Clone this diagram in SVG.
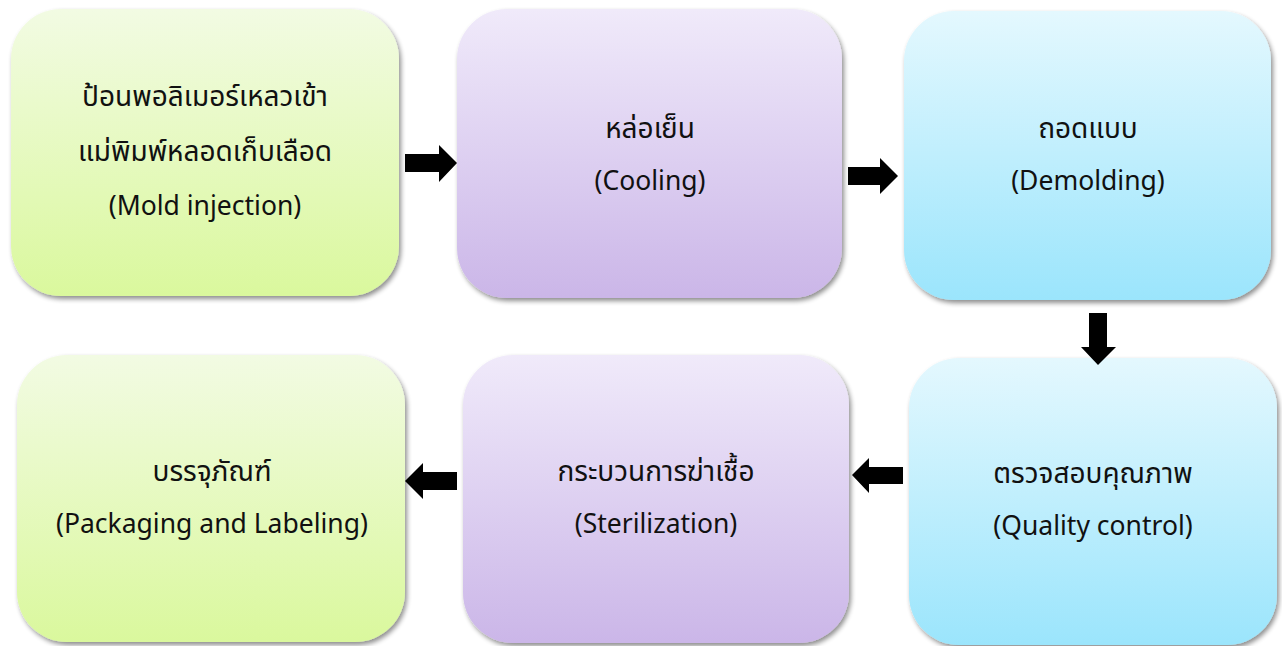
<svg xmlns="http://www.w3.org/2000/svg" width="1282" height="646" viewBox="0 0 1282 646">
<defs>
<linearGradient id="gGreen" x1="0" y1="0" x2="0" y2="1"><stop offset="0" stop-color="#f2fbe3"/><stop offset="1" stop-color="#daf89d"/></linearGradient>
<linearGradient id="gPurple" x1="0" y1="0" x2="0" y2="1"><stop offset="0" stop-color="#f0eafa"/><stop offset="1" stop-color="#cbb6e8"/></linearGradient>
<linearGradient id="gBlue" x1="0" y1="0" x2="0" y2="1"><stop offset="0" stop-color="#e4f8fe"/><stop offset="1" stop-color="#9be5fc"/></linearGradient>
<filter id="shadow" x="-10%" y="-10%" width="120%" height="120%">
<feGaussianBlur in="SourceAlpha" stdDeviation="2.5"/>
<feOffset dx="2" dy="3" result="b"/>
<feComponentTransfer><feFuncA type="linear" slope="0.45"/></feComponentTransfer>
<feMerge><feMergeNode/><feMergeNode in="SourceGraphic"/></feMerge>
</filter>
</defs>
<style>
.box{filter:url(#shadow);}
.t{font-family:"Noto Sans Thai","Noto Sans","DejaVu Sans",sans-serif;font-size:26.5px;fill:#111;text-anchor:middle;}
.th{font-size:28px;}
.arr{fill:#000;}
</style>
<rect width="1282" height="646" fill="#fff"/>
<g id="node-mold">
<rect class="box" x="11" y="9" width="388" height="287" rx="50" fill="url(#gGreen)"/>
<text class="t th" x="205" y="106">ป้อนพอลิเมอร์เหลวเข้า</text>
<text class="t th" x="205" y="161">แม่พิมพ์หลอดเก็บเลือด</text>
<text class="t" x="205" y="215">(Mold injection)</text>
</g>
<g id="node-cooling">
<rect class="box" x="457" y="9" width="385" height="289" rx="50" fill="url(#gPurple)"/>
<text class="t th" x="650" y="138">หล่อเย็น</text>
<text class="t" x="650" y="190">(Cooling)</text>
</g>
<g id="node-demolding">
<rect class="box" x="904" y="11" width="367" height="289" rx="50" fill="url(#gBlue)"/>
<text class="t th" x="1088" y="138">ถอดแบบ</text>
<text class="t" x="1088" y="190">(Demolding)</text>
</g>
<g id="node-qc">
<rect class="box" x="909" y="358" width="368" height="287" rx="50" fill="url(#gBlue)"/>
<text class="t th" x="1093" y="483">ตรวจสอบคุณภาพ</text>
<text class="t" x="1093" y="535">(Quality control)</text>
</g>
<g id="node-sterilization">
<rect class="box" x="463" y="355" width="386" height="288" rx="50" fill="url(#gPurple)"/>
<text class="t th" x="656" y="481">กระบวนการฆ่าเชื้อ</text>
<text class="t" x="656" y="533">(Sterilization)</text>
</g>
<g id="node-packaging">
<rect class="box" x="17" y="355" width="388" height="287" rx="50" fill="url(#gGreen)"/>
<text class="t th" x="212" y="481">บรรจุภัณฑ์</text>
<text class="t" x="212" y="533">(Packaging and Labeling)</text>
</g>
<g id="connectors">
<polygon class="arr" points="405,154 439,154 439,145 457,163 439,182 439,172 405,172"/>
<polygon class="arr" points="848,167 880,167 880,158 898,176 880,194 880,185 848,185"/>
<polygon class="arr" points="1089,313 1107,313 1107,347 1116,347 1098,365 1081,347 1089,347"/>
<polygon class="arr" points="903,467 869,467 869,458 852,475 869,493 869,484 903,484"/>
<polygon class="arr" points="457,472 423,472 423,463 405,481 423,499 423,490 457,490"/>
</g>
</svg>
